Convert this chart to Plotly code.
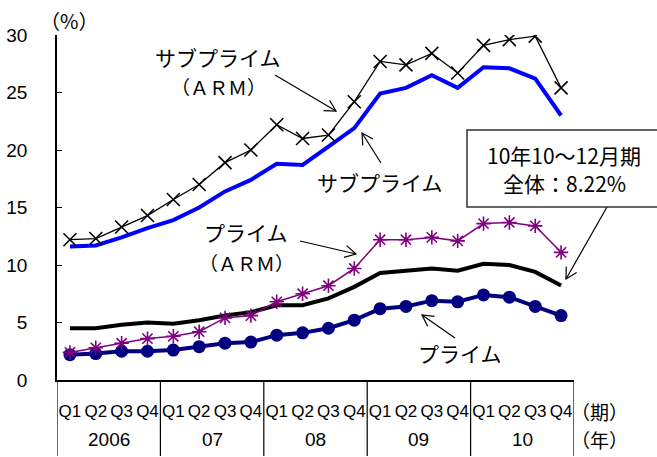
import plotly.graph_objects as go
import math

# ---- data ----
years = ["2006", "07", "08", "09", "10"]
quarters = ["Q1", "Q2", "Q3", "Q4"]
x_year = [y for y in years for _ in quarters]
x_q = [q for _ in years for q in quarters]
x_cat = [f"{y} {q}" for y, q in zip(x_year, x_q)]

subprime_arm = [12.2, 12.3, 13.3, 14.3, 15.7, 17.0, 18.9, 20.0, 22.2, 21.0,
                21.3, 24.2, 27.7, 27.4, 28.4, 26.7, 29.1, 29.6, 29.9, 25.4]
subprime = [11.6, 11.7, 12.4, 13.2, 13.9, 15.0, 16.4, 17.4, 18.8, 18.7,
            20.3, 21.9, 24.9, 25.4, 26.5, 25.4, 27.2, 27.1, 26.2, 23.0]
prime_arm = [2.4, 2.8, 3.2, 3.6, 3.8, 4.2, 5.4, 5.6, 6.8, 7.5,
             8.2, 9.7, 12.2, 12.2, 12.4, 12.1, 13.6, 13.7, 13.4, 11.1]
overall = [4.5, 4.5, 4.8, 5.0, 4.9, 5.2, 5.6, 5.9, 6.5, 6.5,
           7.1, 8.1, 9.3, 9.5, 9.7, 9.5, 10.1, 10.0, 9.4, 8.22]
prime = [2.2, 2.3, 2.5, 2.5, 2.6, 2.9, 3.2, 3.3, 3.9, 4.1,
         4.5, 5.2, 6.2, 6.4, 6.9, 6.8, 7.4, 7.2, 6.4, 5.6]
y_ticks = [0, 5, 10, 15, 20, 25, 30]

# ---- layout constants (pixels) ----
W, H = 657, 457
L, R, T, B = 57, 83, 35, 77
PW, PH = W - L - R, H - T - B

def pp(px, py):
    return (px - L) / PW, (H - B - py) / PH

def ypaper(py):
    return (H - B - py) / PH

JP = "Noto Sans CJK JP, sans-serif"
NUM = "Liberation Sans, Arial, sans-serif"
NARROW = "Liberation Sans Narrow, Arial Narrow, Liberation Sans, sans-serif"

fig = go.Figure()
fig.add_trace(go.Scatter(x=x_cat, y=overall, mode="lines", name="全体",
                         line=dict(color="#000000", width=4)))
fig.add_trace(go.Scatter(x=x_cat, y=prime, mode="lines+markers", name="プライム",
                         line=dict(color="#000080", width=4),
                         marker=dict(symbol="circle", size=13, color="#000080")))
fig.add_trace(go.Scatter(x=x_cat, y=subprime, mode="lines", name="サブプライム",
                         line=dict(color="#0000FF", width=4)))
fig.add_trace(go.Scatter(x=x_cat, y=subprime_arm, mode="lines+markers", name="サブプライム(ARM)",
                         line=dict(color="#000000", width=1.3),
                         marker=dict(symbol="x-thin", size=13,
                                     line=dict(color="#000000", width=1.6))))
fig.add_trace(go.Scatter(x=x_cat, y=prime_arm, mode="lines+markers", name="プライム(ARM)",
                         line=dict(color="#800080", width=1.5),
                         marker=dict(symbol="asterisk", size=12,
                                     line=dict(color="#800080", width=1.6))))

annotations = []
def text(px, py, s, size=21, family=JP):
    x, y = pp(px, py)
    annotations.append(dict(x=x, y=y, xref="paper", yref="paper", text=s,
                            showarrow=False, xanchor="center", yanchor="middle",
                            borderpad=0,
                            font=dict(family=family, size=size, color="#000000")))

text(218, 57, "サブプライム")
text(218, 86, "（ＡＲＭ）", size=19)
text(380, 182, "サブプライム")
text(246, 232, "プライム")
text(246, 262, "（ＡＲＭ）", size=19)
text(460, 353, "プライム")
text(564, 155, "10年10～12月期", size=21)
text(564, 183, "全体：8.22%", size=21)
text(69, 20, "（%）", size=20)
text(599, 411, "（期）", size=19)
text(599, 439, "（年）", size=19)

# year group labels under the quarter labels
n_q = len(quarters)
for k, yr in enumerate(years):
    annotations.append(dict(x=k * n_q + (n_q - 1) / 2, y=ypaper(440), xref="x", yref="paper",
                            text=yr, showarrow=False, xanchor="center", yanchor="middle",
                            font=dict(family=NARROW, size=19, color="#000000")))

shapes = []
# group dividers below the axis
for k in range(len(years) + 1):
    xv = k * n_q - 0.5
    shapes.append(dict(type="line", xref="x", yref="paper", x0=xv, x1=xv,
                       y0=0, y1=ypaper(456), line=dict(color="#000000", width=1.2)))

def arrow(tx, ty, hx, hy):
    x0, y0 = pp(tx, ty)
    x1, y1 = pp(hx, hy)
    shapes.append(dict(type="line", xref="paper", yref="paper", x0=x0, y0=y0, x1=x1, y1=y1,
                       line=dict(color="#000000", width=1.2)))
    dx, dy = hx - tx, hy - ty
    n = math.hypot(dx, dy)
    ux, uy = dx / n, dy / n
    Lh, Wh = 11, 6
    ax1, ay1 = hx - Lh * ux - Wh * uy, hy - Lh * uy + Wh * ux
    ax2, ay2 = hx - Lh * ux + Wh * uy, hy - Lh * uy - Wh * ux
    p1 = pp(ax1, ay1); p2 = pp(hx, hy); p3 = pp(ax2, ay2)
    shapes.append(dict(type="path", xref="paper", yref="paper",
                       path=f"M{p1[0]},{p1[1]} L{p2[0]},{p2[1]} L{p3[0]},{p3[1]}",
                       line=dict(color="#000000", width=1.2)))

arrow(275, 75, 336, 111)
arrow(381, 163, 362, 133)
arrow(300, 241, 356, 254)
arrow(455, 338, 422, 315)
arrow(607, 207, 566, 279)

bx0, by0 = pp(467, 130)
bx1, by1 = pp(670, 207)
shapes.append(dict(type="rect", xref="paper", yref="paper", x0=bx0, y0=by0, x1=bx1, y1=by1,
                   line=dict(color="#333333", width=1.5), fillcolor="rgba(0,0,0,0)"))

fig.update_layout(
    width=W, height=H,
    margin=dict(l=L, r=R, t=T, b=B, autoexpand=False),
    paper_bgcolor="white", plot_bgcolor="white",
    showlegend=False,
    annotations=annotations, shapes=shapes,
)
fig.update_xaxes(type="category", range=[-0.5, len(x_cat) - 0.5],
                 tickvals=x_cat, ticktext=x_q, tickangle=0,
                 showline=True, linecolor="#000000", linewidth=1.5,
                 showgrid=False, zeroline=False, ticks="",
                 tickfont=dict(family=NARROW, size=17, color="#000000"),
                 ticklabelstandoff=15, automargin=False)
fig.update_yaxes(range=[0, 30], tickvals=y_ticks, ticktext=[str(v) for v in y_ticks],
                 showline=True, linecolor="#000000", linewidth=1.5,
                 ticks="inside", ticklen=5, tickcolor="#000000",
                 showgrid=False, zeroline=False,
                 tickfont=dict(family=NUM, size=19, color="#000000"),
                 ticklabelstandoff=24, automargin=False)

fig.write_html("out.html")
